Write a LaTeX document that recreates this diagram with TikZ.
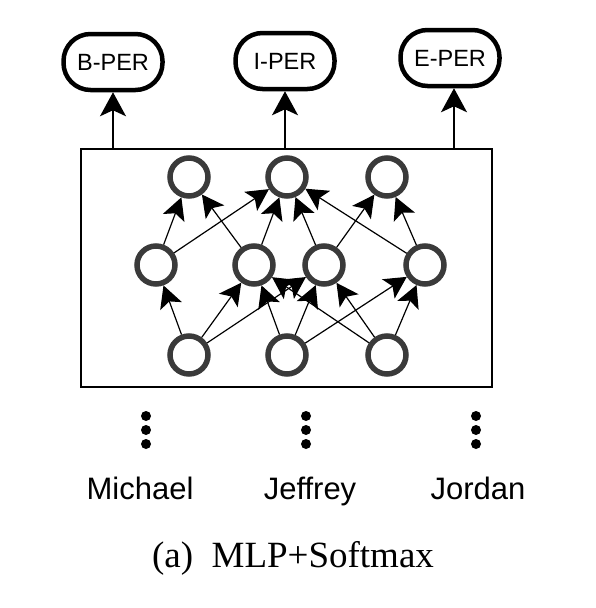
\documentclass[tikz,border=0pt]{standalone}
\usepackage{fontspec}
\newfontfamily\arialf{Liberation Sans}
\newfontfamily\timesf{Liberation Serif}
\usetikzlibrary{arrows.meta}
\definecolor{ringgray}{HTML}{3A3A3A}
\tikzset{
  tag/.style={draw=black, line width=4.5pt, rounded corners=27pt, minimum width=99pt, minimum height=56pt, inner sep=0pt, font=\arialf\fontsize{23.5}{23.5}\selectfont},
  neuron/.style={circle, draw=ringgray, line width=5.5pt, minimum size=38pt, inner sep=0pt},
  outarrow/.style={line width=1.8pt, -{Stealth[length=24pt, width=26pt, inset=6pt]}},
  edge/.style={line width=1.2pt, black, -{Stealth[length=22pt, width=23pt, inset=5pt]}},
  word/.style={font=\arialf\fontsize{31}{31}\selectfont, inner sep=0pt, anchor=base},
  vdot/.style={circle, fill=black, minimum size=10pt, inner sep=0pt},
}
\begin{document}
\begin{tikzpicture}
\useasboundingbox (0pt,0pt) rectangle (596pt,-608pt);
% labels
\node[tag] (bper) at (113pt,-62pt) {B-PER};
\node[tag] (iper) at (285pt,-61pt) {I-PER};
\node[tag] (eper) at (450pt,-58pt) {E-PER};
% box
\node[draw=black, line width=1.6pt, minimum width=411pt, minimum height=238pt, inner sep=0pt] (box) at (286.5pt,-268pt) {};
\coordinate (ob) at (113pt,-149pt);
\coordinate (oi) at (285pt,-149pt);
\coordinate (oe) at (454pt,-149pt);
\draw[outarrow] (ob) -- (ob |- bper.south);
\draw[outarrow] (oi) -- (oi |- iper.south);
\draw[outarrow] (oe) -- (oe |- eper.south);
% neurons
\node[neuron] (t1) at (189pt,-177pt) {};
\node[neuron] (t2) at (287pt,-177pt) {};
\node[neuron] (t3) at (387pt,-177pt) {};
\node[neuron] (m1) at (156pt,-265pt) {};
\node[neuron] (m2) at (254pt,-265pt) {};
\node[neuron] (m3) at (324pt,-265pt) {};
\node[neuron] (m4) at (425pt,-265pt) {};
\node[neuron] (b1) at (189pt,-355pt) {};
\node[neuron] (b2) at (287pt,-355pt) {};
\node[neuron] (b3) at (387pt,-355pt) {};
% bottom -> middle
\draw[edge] (b1) -- (m1);
\draw[edge] (b1) -- (m2);
\draw[edge] (b1) -- (m3);
\draw[edge] (b2) -- (m2);
\draw[edge] (b2) -- (m3);
\draw[edge] (b2) -- (m4);
\draw[edge] (b3) -- (m2);
\draw[edge] (b3) -- (m3);
\draw[edge] (b3) -- (m4);
% middle -> top
\draw[edge] (m1) -- (t1);
\draw[edge] (m1) -- (t2);
\draw[edge] (m2) -- (t1);
\draw[edge] (m2) -- (t2);
\draw[edge] (m3) -- (t2);
\draw[edge] (m3) -- (t3);
\draw[edge] (m4) -- (t2);
\draw[edge] (m4) -- (t3);
% dots
\foreach \n/\x in {a/146, b/306, c/476} {
  \node[vdot] (\n1) at (\x pt,-416pt) {};
  \node[vdot] (\n2) at (\x pt,-430pt) {};
  \node[vdot] (\n3) at (\x pt,-444pt) {};
}
% words
\node[word] (w1) at (140pt,-499pt) {Michael};
\node[word] (w2) at (310pt,-499pt) {Jeffrey};
\node[word] (w3) at (478pt,-499pt) {Jordan};
% caption
\node[font=\timesf\fontsize{37}{37}\selectfont, inner sep=0pt, anchor=base] (cap) at (293pt,-567pt) {(a)\ \ MLP+Softmax};
\end{tikzpicture}
\end{document}
